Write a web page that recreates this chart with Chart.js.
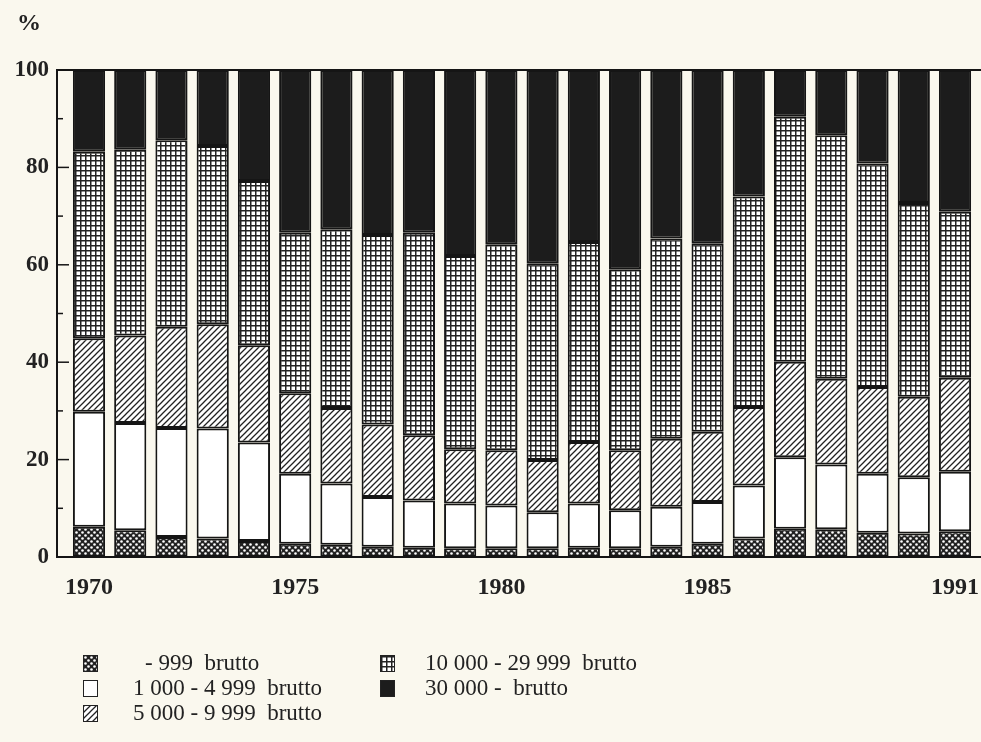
<!DOCTYPE html>
<html><head><meta charset="utf-8">
<script src="https://cdn.jsdelivr.net/npm/chart.js@4.4.1/dist/chart.umd.min.js"></script>
<style>
html,body{margin:0;padding:0;background:#faf8ee;}
#wrap{position:relative;width:981px;height:742px;overflow:hidden;}
#c{position:absolute;left:0;top:0;}
.pct{position:absolute;left:17px;top:9px;font:bold 24px 'Liberation Serif';color:#222;}
.lg{position:absolute;font:23px 'Liberation Serif';color:#222;white-space:pre;line-height:26px;}
.sw{position:absolute;width:13px;height:15px;border:1.5px solid #222;}
</style></head><body>
<div id="wrap"><canvas id="c" width="981" height="742"></canvas><div class="pct">%</div><div id="legend"></div></div>
<script>
// ---- data ----
const years = [1970,1971,1972,1973,1974,1975,1976,1977,1978,1979,1980,1981,1982,1983,1984,1985,1986,1987,1988,1989,1990,1991];
const seriesNames = ["- 999  brutto","1 000 - 4 999  brutto","5 000 - 9 999  brutto","10 000 - 29 999  brutto","30 000 -  brutto"];
const upTo999      = [6.2,5.5,4.1,3.8,3.3,2.7,2.5,2.1,1.9,1.8,1.8,1.8,1.9,1.8,2.1,2.7,3.8,5.8,5.7,5.0,4.8,5.3];
const from1000     = [23.6,22.0,22.4,22.6,20.2,14.4,12.6,10.2,9.7,9.2,8.8,7.4,9.1,7.8,8.2,8.6,10.9,14.7,13.3,12.1,11.6,12.2];
const from5000     = [15.1,18.0,20.8,21.4,20.0,16.5,15.5,14.9,13.4,11.1,11.3,10.7,12.6,12.3,14.0,14.4,16.1,19.6,17.6,17.8,16.5,19.3];
const from10000    = [38.3,38.1,38.3,36.6,33.7,33.0,36.7,38.9,41.6,39.7,42.3,40.4,41.1,37.2,41.1,38.7,43.2,50.3,50.0,45.9,39.8,34.1];
const from30000    = [16.8,16.4,14.4,15.6,22.8,33.4,32.7,33.9,33.4,38.2,35.8,39.7,35.3,40.9,34.6,35.6,26.0,9.6,13.4,19.2,27.3,29.1];
const xTickYears = [1970,1975,1980,1985,1991];
const yTickValues = [0,10,20,30,40,50,60,70,80,90,100];
const yLabelValues = [0,20,40,60,80,100];

// ---- patterns ----
function tile(kind){
  const t=document.createElement('canvas'); t.width=6; t.height=6;
  const g=t.getContext('2d');
  if(kind==='dots'){
    g.fillStyle='#222';g.fillRect(0,0,6,6);
    g.fillStyle='#fff';
    g.beginPath();g.arc(1.5,1.5,1.3,0,Math.PI*2);g.fill();
    g.beginPath();g.arc(4.5,4.5,1.3,0,Math.PI*2);g.fill();
  } else if(kind==='white'){
    g.fillStyle='#fff';g.fillRect(0,0,6,6);
  } else if(kind==='hatch'){
    g.fillStyle='#fff';g.fillRect(0,0,6,6);
    g.strokeStyle='#222';g.lineWidth=1.3;
    g.beginPath();g.moveTo(0,6);g.lineTo(6,0);g.moveTo(-1,1);g.lineTo(1,-1);g.moveTo(5,7);g.lineTo(7,5);g.stroke();
  } else if(kind==='grid'){
    t.width=5;t.height=5;
    g.fillStyle='#fff';g.fillRect(0,0,5,5);
    g.fillStyle='#222';g.fillRect(0,0,5,1.5);g.fillRect(0,0,1.5,5);
  } else {
    g.fillStyle='#1c1c1c';g.fillRect(0,0,6,6);
  }
  return t;
}
const kinds=['dots','white','hatch','grid','black'];
const ctx=document.getElementById('c').getContext('2d');
const tiles=kinds.map(tile);
const fills=tiles.map(t=>ctx.createPattern(t,'repeat'));
const seriesValues=[upTo999,from1000,from5000,from10000,from30000];

const datasets=seriesValues.map((vals,k)=>({
  label:seriesNames[k],
  data:years.map((y,i)=>({x:y,y:vals[i]})),
  backgroundColor:fills[k],
  borderColor:'#151515',
  borderWidth:2,
  borderSkipped:false,
  barPercentage:0.78,
  categoryPercentage:1
}));

const frame={
  id:'frame',
  afterDatasetsDraw(chart){
    const {ctx,chartArea:a,scales:{y}}=chart;
    ctx.save();
    ctx.strokeStyle='#151515';
    ctx.lineWidth=2;
    ctx.beginPath();ctx.moveTo(a.left-1,a.top);ctx.lineTo(a.right,a.top);ctx.stroke();
    ctx.lineWidth=1.5;
    yTickValues.forEach(v=>{
      const py=y.getPixelForValue(v);
      const len=(v%20===0)?12:6;
      ctx.beginPath();ctx.moveTo(a.left,py);ctx.lineTo(a.left+len,py);ctx.stroke();
    });
    ctx.restore();
  }
};

new Chart(ctx,{
  type:'bar',
  data:{datasets},
  plugins:[frame],
  options:{
    responsive:false,
    animation:false,
    layout:{padding:{top:70,right:0,left:0,bottom:145}},
    plugins:{legend:{display:false},tooltip:{enabled:false}},
    scales:{
      x:{
        type:'linear',stacked:true,offset:false,
        min:1969.224,max:1991.63,
        afterBuildTicks(s){s.ticks=xTickYears.map(v=>({value:v}));},
        afterFit(s){s.height=40;s.paddingRight=0;s.paddingLeft=0;},
        grid:{display:false,drawTicks:false,offset:false},
        border:{display:true,color:'#151515',width:2},
        ticks:{padding:16,autoSkip:false,maxRotation:0,color:'#222',
          font:{family:'Liberation Serif',weight:'bold',size:24},
          callback:v=>String(v)}
      },
      y:{
        stacked:true,min:0,max:100,
        afterBuildTicks(s){s.ticks=yLabelValues.map(v=>({value:v}));},
        afterFit(s){s.width=57;s.paddingTop=0;s.paddingBottom=0;},
        grid:{display:false,drawTicks:false},
        border:{display:true,color:'#151515',width:2},
        ticks:{padding:8,color:'#222',font:{family:'Liberation Serif',weight:'bold',size:23}}
      }
    }
  }
});

// ---- legend (HTML) ----
const lg=document.getElementById('legend');
const legPos=[[83,145,664],[83,133,689],[83,133,714],[380,425,664],[380,425,689]];
seriesNames.forEach((n,k)=>{
  const [sx,tx,cy]=legPos[k];
  const s=document.createElement('div');s.className='sw';
  s.style.left=sx+'px';s.style.top=(cy-9)+'px';
  s.style.backgroundImage='url('+tiles[k].toDataURL()+')';
  lg.appendChild(s);
  const t=document.createElement('div');t.className='lg';
  t.style.left=tx+'px';t.style.top=(cy-14)+'px';t.textContent=n;
  lg.appendChild(t);
});
</script>
</body></html>
